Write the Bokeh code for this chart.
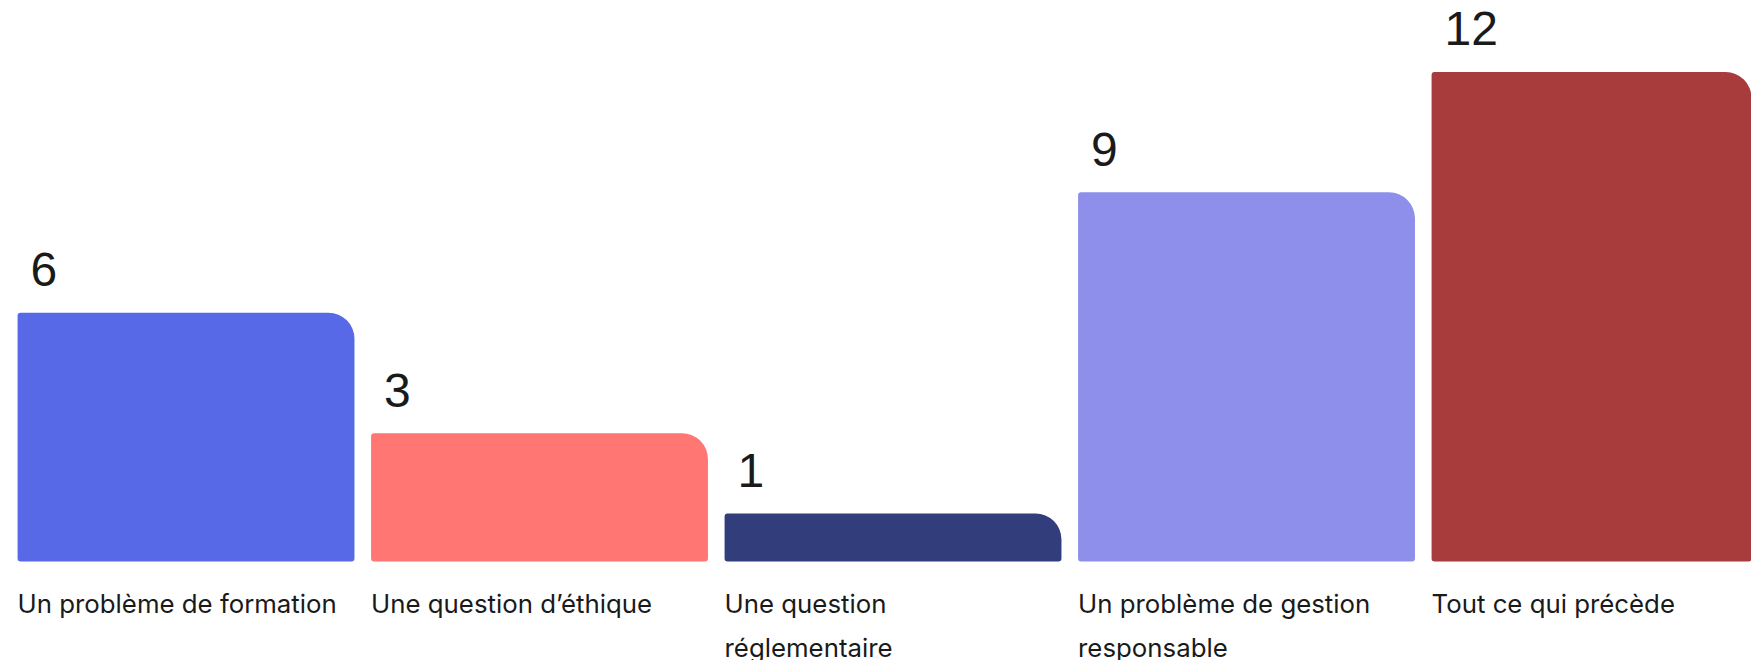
from bokeh.plotting import figure
from bokeh.models import ColumnDataSource, Range1d
from bokeh.core.properties import value
from bokeh.embed import file_html
from bokeh.resources import INLINE

categories = [
    "Un problème de formation",
    "Une question d’éthique",
    "Une question\nréglementaire",
    "Un problème de gestion\nresponsable",
    "Tout ce qui précède",
]
counts = [6, 3, 1, 9, 12]
colors = ["#5769E6", "#FF7673", "#323D7C", "#8E8FEA", "#A83B3B"]
value_labels = [str(c) for c in counts]

BAR_W = 0.953
BASE = -0.197

src = ColumnDataSource(dict(
    x=list(range(len(categories))),
    left=[i - BAR_W / 2 for i in range(len(categories))],
    top=counts,
    color=colors,
    cat=categories,
    lab=value_labels,
    base=[BASE] * len(categories),
))

p = figure(width=1751, height=660, output_backend="svg", toolbar_location=None,
           x_range=Range1d(-0.5248, 4.4285), y_range=Range1d(-2.663, 13.779),
           min_border=0, outline_line_color=None)
p.axis.visible = False
p.grid.visible = False
p.background_fill_color = "white"
p.border_fill_color = "white"

p.vbar(x="x", width=BAR_W, top="top", bottom="base", color="color", source=src,
       line_color=None, border_radius=(3, 26, 3, 3))

p.text(x="left", y="base", text="cat", source=src, x_offset=0, y_offset=26,
       text_font=value("Inter"), text_font_size="25.8px",
       text_color="#1a1a1a", text_baseline="top", text_align="left",
       text_line_height=1.42)

p.text(x="left", y="top", text="lab", source=src, x_offset=13, y_offset=-43,
       text_font=value("Liberation Sans"), text_font_size="48px",
       text_color="#1a1a1a", text_baseline="alphabetic", text_align="left")

open("out.html", "w").write(file_html(p, INLINE))
